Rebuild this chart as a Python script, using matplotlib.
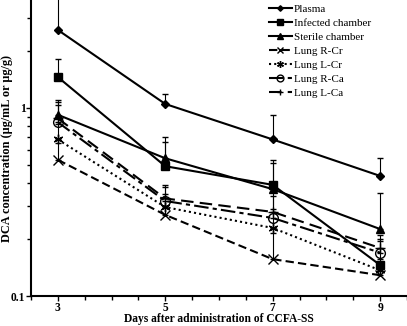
"""
DCA concentration over time after CCFA-SS administration
"""

import matplotlib
matplotlib.use('Agg')
import matplotlib.pyplot as plt
from matplotlib.lines import Line2D
import numpy as np

# data
days = [3, 5, 7, 9]

plasma = [2.6, 1.05, 0.68, 0.435]
plasma_err = [1.3, 0.13, 0.24, 0.11]

infected = [1.46, 0.49, 0.39, 0.146]
infected_err = [0.36, 0.21, 0.14, 0.05]

sterile = [0.92, 0.54, 0.37, 0.227]
sterile_err = [0.18, 0.12, 0.14, 0.125]

r_cr = [0.53, 0.27, 0.157, 0.129]
r_cr_err = [0.12, 0.06, 0.06, 0.02]

l_cr = [0.68, 0.297, 0.23, 0.137]
l_cr_err = [0.14, 0.05, 0.06, 0.02]

r_ca = [0.84, 0.32, 0.26, 0.17]
r_ca_err = [0.2, 0.06, 0.08, 0.03]

l_ca = [0.88, 0.33, 0.28, 0.18]
l_ca_err = [0.2, 0.06, 0.1, 0.03]

labels = ['Plasma', 'Infected chamber', 'Sterile chamber', 'Lung R-Cr',
          'Lung L-Cr', 'Lung R-Ca', 'Lung L-Ca']

plt.rcParams['font.family'] = ['Liberation Serif', 'DejaVu Serif']

fig = plt.figure(figsize=(4.07, 3.26), dpi=100)
ax = fig.add_axes([0.076, 0.092, 0.924, 0.908])

series = [
    (plasma, plasma_err, dict(marker='D', ms=4, ls='-', mfc='k')),
    (infected, infected_err, dict(marker='s', ms=6, ls='-', mfc='k')),
    (sterile, sterile_err, dict(marker='^', ms=6, ls='-', mfc='k')),
    (r_cr, r_cr_err, dict(marker='x', ms=7, ls=(0, (4, 2)), mfc='k')),
    (l_cr, l_cr_err, dict(marker=(6, 2, 0), ms=7, ls=(0, (1, 1.5)), mfc='k')),
    (r_ca, r_ca_err, dict(marker='o', ms=7, ls=(0, (7, 2, 2, 2)), mfc='none')),
    (l_ca, l_ca_err, dict(marker='+', ms=7, ls=(0, (6, 3)), mfc='k')),
]

handles = []
for (vals, err, st), lab in zip(series, labels):
    ax.errorbar(days, vals, yerr=[np.zeros(len(err)), err], color='k',
                ecolor='k', elinewidth=0.8, capsize=2, capthick=0.8,
                lw=1.5, mew=1.0, **st)
    hst = dict(st)
    hst['ms'] = st['ms'] * 0.7
    handles.append(Line2D([], [], color='k', lw=1.5, mew=1.0, **hst))

ax.set_yscale('log')
ax.set_ylim(0.1, 3.75)
ax.set_xlim(2.5, 9.5)

ax.set_xticks([3, 5, 7, 9])
ax.set_xticks(np.arange(2.5, 9.51, 0.5), minor=True)
ax.set_yticks([0.1, 1])
ax.set_yticklabels(['0.1', '1'])

ax.spines[['top', 'right']].set_visible(False)
ax.spines[['left', 'bottom']].set_linewidth(1.5)
ax.tick_params(which='both', direction='out', width=1.0)
ax.tick_params(which='major', length=3.5, pad=0.5)
ax.tick_params(which='minor', length=3)
for t in ax.get_xticklabels() + ax.get_yticklabels():
    t.set_fontweight('bold')
    t.set_fontsize(8.3)

ax.set_xlabel('Days after administration of CCFA-SS', fontsize=8.3,
              fontweight='bold')
ax.set_ylabel('DCA concentration (μg/mL or μg/g)', fontsize=8.8,
              fontweight='bold')
ax.xaxis.set_label_coords(0.5, -0.059)
ax.yaxis.set_label_coords(-0.048, 0.5)

ax.legend(handles, labels, loc='upper left', bbox_to_anchor=(0.622, 1.0),
          frameon=False, fontsize=8, handlelength=2.0, labelspacing=0.38,
          handletextpad=0.2, borderaxespad=0)

fig.savefig('out.png', dpi=100)
